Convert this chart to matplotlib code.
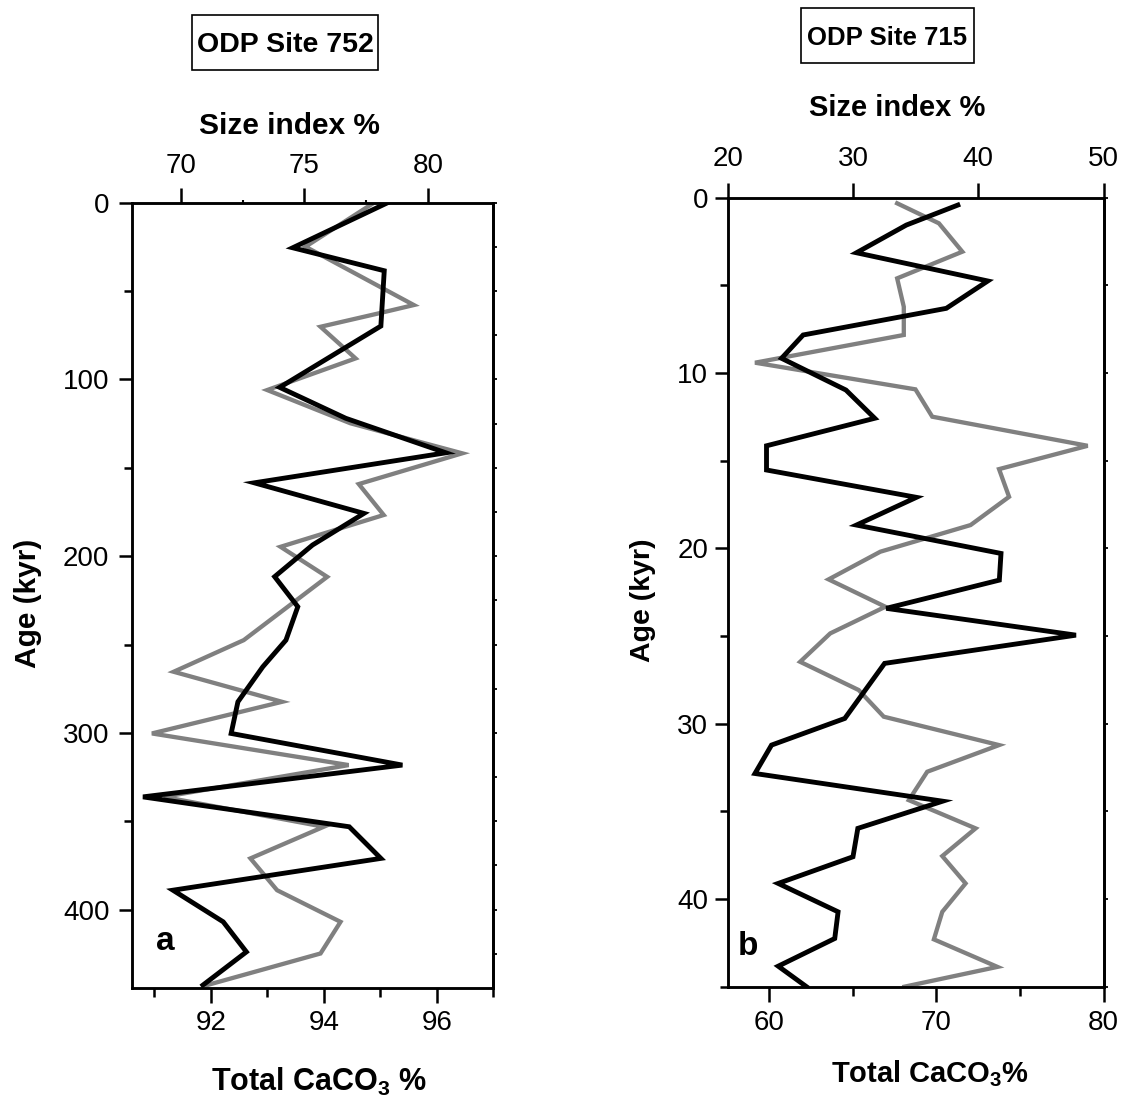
import numpy as np
import matplotlib
matplotlib.use('Agg')
import matplotlib.pyplot as plt
from matplotlib.patches import Rectangle

plt.rcParams['font.family'] = 'Liberation Sans'
plt.rcParams['mathtext.fontset'] = 'custom'
plt.rcParams['mathtext.bf'] = 'Liberation Sans:bold'
plt.rcParams['mathtext.rm'] = 'Liberation Sans'
plt.rcParams['mathtext.default'] = 'bf'

# ODP Site 752 -- black: total CaCO3 (bottom axis), gray: size index (top axis)
age752_caco3 = [0, 25.5, 38.5, 69.8, 104.5, 122, 141.5, 158.5, 175.8, 193.7, 211.6,
                228.6, 247.5, 262.6, 282.4, 300.3, 318.2, 336.2, 353.1, 371, 389,
                406.9, 423.9, 442.7]
caco3_752 = [95.13, 93.45, 95.07, 95.01, 93.22, 94.39, 96.16, 92.77, 94.71, 93.80, 93.13,
             93.54, 93.33, 92.92, 92.48, 92.36, 95.39, 90.80, 94.45, 95.01, 91.33,
             92.22, 92.63, 91.86]
age752_size = [0.7, 24.9, 57.9, 62.6, 70.2, 88.1, 106, 124.8, 141.8, 159.2, 176.7, 194.7,
               211.7, 247.5, 265.4, 282.4, 300.3, 318.2, 336.2, 353.1, 371, 389, 406.9,
               424.8, 442.7]
size_752 = [77.74, 75.04, 79.43, 78.01, 75.65, 77.07, 73.49, 76.86, 81.39, 77.20, 78.21,
            74.03, 75.92, 72.54, 69.70, 74.09, 68.82, 76.79, 69.30, 75.78, 72.81, 73.89,
            76.46, 75.65, 71.05]

# ODP Site 715
age715_caco3 = [0.42, 1.56, 3.14, 4.75, 6.31, 7.83, 9.16, 10.97, 12.58, 14.15, 15.53,
                17.09, 18.67, 20.29, 21.81, 23.42, 24.95, 26.56, 29.7, 31.22, 32.84,
                34.42, 35.97, 37.59, 39.11, 40.73, 42.25, 43.83, 45.0]
caco3_715 = [71.28, 68.20, 65.22, 73.07, 70.59, 62.03, 60.74, 64.59, 66.31, 59.84, 59.84,
             68.80, 65.22, 73.86, 73.76, 67.00, 78.34, 66.90, 64.52, 60.14, 59.15,
             70.37, 65.30, 65.01, 60.54, 64.12, 63.92, 60.54, 62.23]
age715_size = [0.32, 1.46, 3.08, 4.6, 6.22, 7.83, 9.41, 10.93, 12.49, 14.15, 15.48, 17.06,
               18.67, 20.19, 21.77, 23.33, 24.85, 26.47, 28.08, 29.6, 31.22, 32.74, 34.36,
               35.97, 37.55, 39.11, 40.73, 42.3, 43.87, 45.0]
size_715 = [33.52, 36.85, 38.72, 33.52, 34.05, 34.05, 22.18, 34.98, 36.32, 48.72, 41.65,
            42.45, 39.38, 32.18, 28.05, 32.58, 28.18, 25.78, 30.45, 32.45, 41.65, 35.92,
            34.45, 39.78, 37.12, 38.98, 37.12, 36.45, 41.52, 34.1]

W, H = 1128, 1106
fig = plt.figure(figsize=(W / 100, H / 100), dpi=100)


def panel(rect, ages_c, caco3, ages_s, size, xlim_b, xlim_t, ymax,
          bticks, bminor, tticks, tminor, yticks, yminor, rticks,
          fs_tick, pads, letter, letter_pos, lab_pos, fs_lab, cl):
    ax = fig.add_axes(rect)
    ax2 = ax.twiny()
    ax.set_zorder(ax2.get_zorder() + 1)
    ax.patch.set_visible(False)

    ax2.plot(size, ages_s, color='#808080', lw=3.1, solid_joinstyle='miter')
    ax.plot(caco3, ages_c, color='black', lw=3.5, solid_joinstyle='miter')

    ax.set_xlim(*xlim_b)
    ax2.set_xlim(*xlim_t)
    ax.set_ylim(ymax, 0)

    ax.set_xticks(bticks)
    ax.set_xticks(bminor, minor=True)
    ax2.set_xticks(tticks)
    ax2.set_xticks(tminor, minor=True)
    ax.set_yticks(yticks)
    ax.set_yticks(yminor, minor=True)

    for a in (ax, ax2):
        for s in a.spines.values():
            s.set_linewidth(1.8)
    ax.tick_params(axis='x', which='major', length=11, width=1.8, labelsize=fs_tick, pad=pads[0])
    ax.tick_params(axis='x', which='minor', length=6.5, width=1.8)
    ax2.tick_params(axis='x', which='major', length=11, width=1.8, labelsize=fs_tick, pad=pads[1])
    ax2.tick_params(axis='x', which='minor', length=2.5, width=1.5)
    ax.tick_params(axis='y', which='major', length=9.5, width=1.8, labelsize=fs_tick, pad=pads[2])
    ax.tick_params(axis='y', which='minor', length=6, width=1.8)

    sec = ax.secondary_yaxis('right')
    sec.set_yticks(rticks)
    sec.tick_params(length=3, width=1.3, labelright=False)
    sec.spines['right'].set_linewidth(1.8)

    ax.text(letter_pos[0], letter_pos[1], letter, transform=ax.transAxes,
            fontsize=24, fontweight='bold', ha='center', va='center')

    ax.set_xlabel(r'Total CaCO$_3$' + cl, fontsize=fs_lab[0], fontweight='bold')
    ax.xaxis.set_label_coords(*lab_pos[0])
    ax2.set_xlabel('Size index %', fontsize=fs_lab[1], fontweight='bold')
    ax2.xaxis.set_label_coords(*lab_pos[1])
    ax.set_ylabel('Age (kyr)', fontsize=fs_lab[2], fontweight='bold')
    ax.yaxis.set_label_coords(*lab_pos[2])
    return ax


# panel a
panel([131.7 / W, 1 - 988.3 / H, 361.6 / W, 785.6 / H],
      age752_caco3, caco3_752, age752_size, size_752,
      (90.6, 97.0), (68.0, 82.65), 444.5,
      [92, 94, 96], [91, 93, 95, 97], [70, 75, 80], [72.5, 77.5],
      [0, 100, 200, 300, 400], [50, 150, 250, 350], np.arange(0, 445, 25),
      20, (4.5, 6.0, 6.5), 'a', (0.092, 0.059),
      [(0.518, -0.099), (0.435, 1.088), (-0.248, 0.49)], (22, 21.5, 21.5), ' %')

# panel b
panel([727.7 / W, 1 - 986.7 / H, 376.0 / W, 789.0 / H],
      age715_caco3, caco3_715, age715_size, size_715,
      (57.52, 80.0), (20.0, 50.0), 45.0,
      [60, 70, 80], [65, 75], [20, 30, 40, 50], [],
      [0, 10, 20, 30, 40], [5, 15, 25, 35, 45], np.arange(0, 46, 5),
      20, (5.5, 7.5, 4.5), 'b', (0.054, 0.051),
      [(0.538, -0.090), (0.45, 1.104), (-0.19, 0.49)], (21, 21, 20.5), '%')

# boxed site titles
for (x0, y0, x1, y1), name, fs in [((192, 15, 378, 70), 'ODP Site 752', 20.5),
                                    ((801, 8, 974, 63), 'ODP Site 715', 18.5)]:
    fig.patches.append(Rectangle((x0 / W, 1 - y1 / H), (x1 - x0) / W, (y1 - y0) / H,
                                 transform=fig.transFigure, fc='white', ec='black',
                                 lw=1.2))
    fig.text((x0 + x1) / 2 / W, 1 - (y0 + y1) / 2 / H, name, fontsize=fs,
             fontweight='bold', ha='center', va='center_baseline')

fig.savefig('out.png', dpi=100)
